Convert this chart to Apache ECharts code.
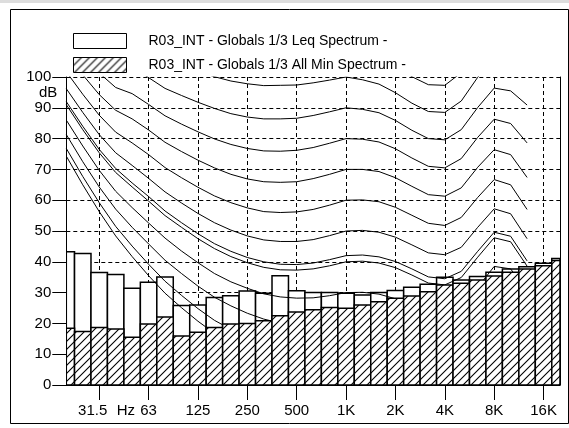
<!DOCTYPE html>
<html>
<head>
<meta charset="utf-8">
<script src="https://cdn.jsdelivr.net/npm/echarts@6/dist/echarts.min.js"></script>
<style>
  html, body { margin: 0; padding: 0; background: #fff; }
  #chart { width: 569px; height: 428px; }
</style>
</head>
<body>
<div id="chart"></div>
<script>
/* ── Data (1/3 octave bands, 20 Hz .. 20 kHz) ──────────────────── */
const bands = ['20', '25', '31.5', '40', '50', '63', '80', '100', '125', '160', '200', '250', '315', '400', '500',
    '630', '800', '1K', '1.25K', '1.6K', '2K', '2.5K', '3.15K', '4K', '5K', '6.3K', '8K', '10K', '12.5K', '16K', '20K'];

const leqSpectrum = [43.3, 42.7, 36.5, 35.9, 31.4, 33.4, 35.1, 25.8, 26.0, 28.4, 29.0, 30.5, 29.8, 35.5, 30.6,
    30.0, 30.0, 29.8, 29.2, 30.0, 30.7, 31.7, 32.7, 35.0, 34.1, 35.2, 36.6, 37.7, 38.4, 39.5, 41.1];
const minSpectrum = [18.4, 17.4, 18.7, 18.2, 15.5, 19.8, 22.1, 15.9, 17.1, 18.7, 19.8, 20.0, 20.9, 22.5, 23.7,
    24.4, 25.2, 24.9, 26.0, 27.0, 28.2, 28.9, 30.3, 32.5, 33.0, 34.1, 35.4, 36.6, 37.7, 38.7, 40.4];

// equal loudness curves, 20 Hz .. 12.5 kHz (dB)
const phon110 = [134.6, 129.8, 125.0, 121.3, 121.9, 118.4, 115.3, 113.7, 112.3, 110.9, 109.7, 109.0, 108.6, 108.6, 108.6, 109.0, 109.5, 110, 108.6, 107.0, 103.8, 100.1, 97.5, 97.3, 101.4, 109.6, 117.0, 117.9, 119.0];
const phon100 = [127.2, 121.9, 116.6, 112.6, 112.3, 108.9, 105.6, 103.6, 101.8, 100.1, 98.7, 97.8, 97.2, 97.3, 97.4, 98.1, 99.0, 100, 99.1, 97.7, 94.9, 91.5, 88.8, 88.5, 92.2, 99.9, 106.6, 106.4, 104.3];
const phon90 = [120.3, 114.4, 108.7, 104.4, 103.2, 99.8, 96.3, 94.0, 91.8, 89.8, 88.1, 87.0, 86.4, 86.4, 86.6, 87.5, 88.7, 90, 89.5, 88.4, 85.9, 82.7, 80.0, 79.6, 82.9, 90.1, 96.4, 95.5, 90.9];
const phon80 = [113.7, 107.3, 101.3, 96.6, 94.6, 91.1, 87.4, 84.7, 82.2, 79.9, 78.1, 76.8, 76.0, 75.9, 76.2, 77.1, 78.5, 80, 79.8, 78.9, 76.7, 73.7, 71.0, 70.5, 73.5, 80.4, 86.3, 84.9, 78.6];
const phon70 = [107.6, 100.7, 94.3, 89.2, 86.4, 82.8, 78.8, 75.8, 73.0, 70.5, 68.4, 66.9, 66.0, 65.8, 66.0, 67.0, 68.4, 70, 70.0, 69.3, 67.3, 64.5, 61.8, 61.3, 64.0, 70.7, 76.4, 74.8, 67.4];
const phon60 = [101.7, 94.4, 87.6, 82.1, 78.6, 74.8, 70.6, 67.3, 64.2, 61.4, 59.2, 57.5, 56.3, 56.0, 56.2, 57.0, 58.4, 60, 60.1, 59.5, 57.7, 55.1, 52.5, 51.8, 54.4, 60.9, 66.7, 65.0, 57.0];
const phon50 = [96.2, 88.5, 81.3, 75.4, 71.3, 67.1, 62.7, 59.1, 55.7, 52.7, 50.3, 48.4, 47.1, 46.6, 46.6, 47.2, 48.5, 50, 50.2, 49.6, 48.0, 45.5, 42.9, 42.3, 44.7, 51.2, 57.2, 55.6, 47.5];
const phon42 = [92.0, 84.0, 76.5, 70.3, 65.6, 61.2, 56.5, 52.7, 49.1, 45.9, 43.4, 41.4, 40.0, 39.2, 39.1, 39.6, 40.7, 42, 42.2, 41.6, 40.1, 37.7, 35.1, 34.5, 36.9, 43.4, 49.6, 48.3, 40.3];
const phon40 = [91.0, 82.9, 75.4, 69.0, 64.3, 59.7, 55.0, 51.2, 47.5, 44.3, 41.7, 39.7, 38.2, 37.4, 37.3, 37.7, 38.7, 40, 40.2, 39.6, 38.1, 35.7, 33.1, 32.5, 34.9, 41.5, 47.8, 46.5, 38.6];
const phon30 = [86.0, 77.6, 69.7, 62.9, 57.6, 52.6, 47.7, 43.5, 39.7, 36.2, 33.5, 31.4, 29.6, 28.6, 28.2, 28.3, 29.0, 30, 30.1, 29.5, 28.0, 25.7, 23.2, 22.6, 25.0, 31.7, 38.5, 37.7, 30.4];
const phon20 = [81.3, 72.5, 64.3, 57.1, 51.2, 45.8, 40.5, 36.2, 32.1, 28.5, 25.7, 23.3, 21.4, 20.1, 19.4, 19.1, 19.4, 20, 19.9, 19.2, 17.7, 15.4, 13.0, 12.5, 15.0, 22.0, 29.4, 29.2, 22.7];
const phon10 = [76.8, 67.7, 59.2, 51.5, 45.1, 39.2, 33.7, 29.1, 24.8, 21.0, 18.1, 15.6, 13.4, 11.9, 10.9, 10.1, 9.9, 10, 9.7, 8.7, 7.2, 5.0, 2.5, 2.2, 4.8, 12.2, 20.4, 21.0, 15.5];
const threshold = [74.3, 65.0, 56.3, 48.4, 41.7, 35.5, 29.8, 25.1, 20.7, 16.8, 13.8, 11.2, 8.9, 7.2, 6.0, 5.0, 4.4, 4.2, 3.7, 2.6, 1.0, -1.2, -3.6, -3.9, -1.1, 6.6, 15.3, 16.4, 11.6];
const curves = [phon110, phon100, phon90, phon80, phon70, phon60, phon50, phon42, phon40, phon30, phon20, phon10, threshold];

// x axis: octave ticks and their labels (band index)
const tickBands = [2, 5, 8, 11, 14, 17, 20, 23, 26, 29];
const labelBands = [1.6, 3.62, 5, 8, 11, 14, 17, 20, 23, 26, 29];
const labelTexts = ['31.5', 'Hz', '63', '125', '250', '500', '1K', '2K', '4K', '8K', '16K'];

const seriesNames = ['R03_INT - Globals 1/3 Leq Spectrum -', 'R03_INT - Globals 1/3 All Min Spectrum -'];

/* ── Hatch pattern (opaque, white ground) ─────────────────────── */
function hatch() {
    const c = document.createElement('canvas');
    c.width = 8; c.height = 8;
    const g = c.getContext('2d');
    g.fillStyle = '#fff';
    g.fillRect(0, 0, 8, 8);
    g.strokeStyle = '#000';
    g.lineWidth = 1.1;
    g.beginPath();
    g.moveTo(0, 8); g.lineTo(8, 0);
    g.moveTo(-2, 2); g.lineTo(2, -2);
    g.moveTo(6, 10); g.lineTo(10, 6);
    g.stroke();
    return c;
}
const HATCH = { image: hatch(), repeat: 'repeat' };

/* ── Bars: one band wide, clipped to the plot ─────────────────── */
function bandBar(fill) {
    return (params, api) => {
        const i = api.value(0), v = api.value(1);
        const a = api.coord([i - 0.5, v]);
        const b = api.coord([i + 0.5, 0]);
        const cs = params.coordSys;
        const r = echarts.graphic.clipRectByRect(
            { x: a[0], y: a[1], width: b[0] - a[0], height: b[1] - a[1] },
            { x: cs.x, y: cs.y, width: cs.width, height: cs.height });
        if (!r) return null;
        return { type: 'rect', shape: r, style: { fill: fill, stroke: '#000', lineWidth: 1.5 } };
    };
}

/* ── Chart ─────────────────────────────────────────────────────── */
const chart = echarts.init(document.getElementById('chart'), null, { renderer: 'canvas' });
const FONT = 'Liberation Sans, Arial, sans-serif';
const dashed = { color: '#000', width: 1, type: [4, 3] };

const lineSeries = curves.map(vals => ({
    type: 'line',
    data: vals.map((v, i) => [i, v]),
    showSymbol: false,
    silent: true,
    clip: true,
    z: 3,
    lineStyle: { color: '#000', width: 1 }
}));

chart.setOption({
    animation: false,
    backgroundColor: '#fff',
    textStyle: { fontFamily: FONT },
    grid: { left: 66.3, right: 9, top: 77, bottom: 43, containLabel: false },
    legend: {
        orient: 'vertical',
        left: 73, top: 33, padding: 0,
        itemWidth: 53, itemHeight: 15, itemGap: 8,
        selectedMode: false,
        data: [
            { name: seriesNames[0], icon: 'rect', itemStyle: { color: '#fff', borderColor: '#000', borderWidth: 1 } },
            { name: seriesNames[1], icon: 'rect', itemStyle: { color: HATCH, borderColor: '#000', borderWidth: 1 } }
        ],
        textStyle: { fontSize: 14, color: '#000', fontFamily: FONT, padding: [0, 0, 0, 17] }
    },
    xAxis: {
        type: 'value', min: 0, max: 30,
        axisLine: { show: true, lineStyle: { color: '#000', width: 1 } },
        axisTick: { show: true, customValues: tickBands, length: 15, lineStyle: { color: '#000' } },
        axisLabel: {
            customValues: labelBands, margin: 18, fontSize: 15, color: '#000', fontFamily: FONT,
            formatter: v => labelTexts[labelBands.indexOf(v)] || ''
        },
        splitLine: { show: true, lineStyle: dashed }
    },
    yAxis: [{
        type: 'value', min: 0, max: 100, interval: 10,
        axisLine: { show: true, lineStyle: { color: '#000', width: 1 } },
        axisTick: { show: true, length: 14, lineStyle: { color: '#000' } },
        axisLabel: { margin: 15, fontSize: 15, color: '#000', fontFamily: FONT },
        splitLine: { show: true, lineStyle: dashed }
    }, {
        type: 'value', min: 0, max: 100, position: 'right',
        axisLine: { show: true, lineStyle: { color: '#000', width: 1 } },
        axisTick: { show: false }, axisLabel: { show: false }, splitLine: { show: false }
    }],
    graphic: [
        { type: 'rect', left: 8, top: 7, shape: { width: 558, height: 414 }, style: { fill: 'none', stroke: '#000', lineWidth: 1 } },
        { type: 'rect', left: 0, top: 0, shape: { width: 569, height: 3 }, style: { fill: '#ddd' } },
        { type: 'text', left: 39, top: 85, style: { text: 'dB', fontSize: 15, fontFamily: FONT, fill: '#000' } }
    ],
    series: [{
        name: seriesNames[0],
        type: 'custom',
        data: leqSpectrum.map((v, i) => [i, v]),
        encode: { x: 0, y: 1 },
        renderItem: bandBar('#fff'),
        clip: true,
        z: 2
    }, {
        name: seriesNames[1],
        type: 'custom',
        data: minSpectrum.map((v, i) => [i, v]),
        encode: { x: 0, y: 1 },
        renderItem: bandBar(HATCH),
        clip: true,
        z: 4
    }].concat(lineSeries)
});
</script>
</body>
</html>
